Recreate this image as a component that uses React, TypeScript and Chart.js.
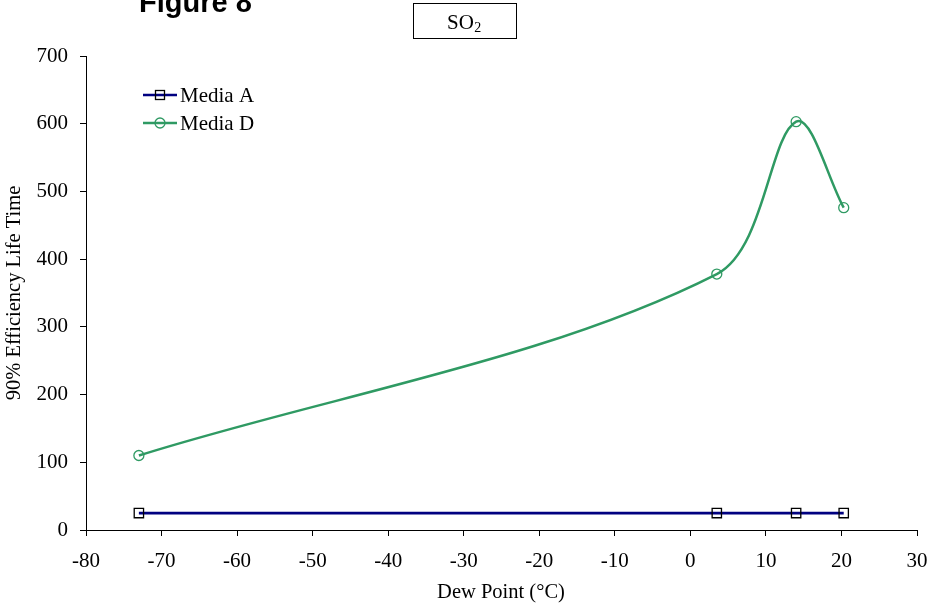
import React, { useEffect, useRef } from "react";
import { Chart, registerables } from "chart.js";

Chart.register(...registerables);

const dewPoints = [-73, 3.5, 14, 20.3];
const mediaA = [25, 25, 25, 25];
const mediaD = [110, 378, 603, 476];
const xTicks = [-80, 30, 10];
const yTicks = [0, 700, 100];

const SERIF = "'Liberation Serif', 'Times New Roman', serif";
const SANS = "'Liberation Sans', Arial, sans-serif";
const GREEN = "#2F9A63";
const NAVY = "#000080";

const decorPlugin = {
  id: "decor",
  afterDraw(chart: any) {
    const ctx = chart.ctx;
    const area = chart.chartArea;
    ctx.save();
    ctx.fillStyle = "#000";
    ctx.font = `bold 29px ${SANS}`;
    ctx.textAlign = "left";
    ctx.textBaseline = "alphabetic";
    ctx.fillText("Figure 8", 139, 11.5);

    ctx.strokeStyle = "#000";
    ctx.lineWidth = 1;
    ctx.strokeRect(413.5, 3.5, 103, 35);
    ctx.font = `21px ${SERIF}`;
    ctx.fillText("SO", 447, 29);
    const w = ctx.measureText("SO").width;
    ctx.font = `14px ${SERIF}`;
    ctx.fillText("2", 447 + w + 0.5, 32);

    ctx.font = `20.5px ${SERIF}`;
    ctx.textAlign = "center";
    ctx.textBaseline = "middle";
    ctx.fillText("Dew Point (\u00B0C)", 501, 593);
    ctx.save();
    ctx.translate(15, (area.top + area.bottom) / 2);
    ctx.rotate(-Math.PI / 2);
    ctx.fillText("90% Efficiency Life Time", 0, 0);
    ctx.restore();

    const items = [
      { label: chart.data.datasets[0].label, y: 95, color: NAVY, style: "rect" },
      { label: chart.data.datasets[1].label, y: 123, color: GREEN, style: "circle" },
    ];
    ctx.textAlign = "left";
    ctx.font = `21px ${SERIF}`;
    for (const it of items) {
      ctx.strokeStyle = it.color;
      ctx.lineWidth = 2.5;
      ctx.beginPath();
      ctx.moveTo(143, it.y);
      ctx.lineTo(177, it.y);
      ctx.stroke();
      if (it.style === "rect") {
        ctx.strokeStyle = "#000";
        ctx.lineWidth = 1.3;
        ctx.strokeRect(155.5, it.y - 4.5, 9, 9);
      } else {
        ctx.strokeStyle = GREEN;
        ctx.lineWidth = 1.3;
        ctx.beginPath();
        ctx.arc(160, it.y, 5, 0, Math.PI * 2);
        ctx.stroke();
      }
      ctx.fillStyle = "#000";
      ctx.fillText(it.label, 180, it.y + 1);
    }
    ctx.restore();
  },
};

export default function App() {
  const ref = useRef<HTMLCanvasElement>(null);
  useEffect(() => {
    const canvas = ref.current!;
    const chart = new Chart(canvas, {
      type: "scatter",
      data: {
        datasets: [
          {
            label: "Media A",
            data: dewPoints.map((x, i) => ({ x, y: mediaA[i] })),
            showLine: true,
            borderColor: NAVY,
            borderWidth: 2.8,
            pointStyle: "rect",
            pointRadius: 6.6,
            pointBorderColor: "#000",
            pointBackgroundColor: "rgba(0,0,0,0)",
            pointBorderWidth: 1.3,
            tension: 0,
          },
          {
            label: "Media D",
            data: dewPoints.map((x, i) => ({ x, y: mediaD[i] })),
            showLine: true,
            borderColor: GREEN,
            borderWidth: 2.5,
            pointStyle: "circle",
            pointRadius: 5,
            pointBorderColor: GREEN,
            pointBackgroundColor: "rgba(0,0,0,0)",
            pointBorderWidth: 1.3,
            tension: 0.33,
          },
        ],
      },
      options: {
        animation: false,
        responsive: false,
        devicePixelRatio: 1,
        layout: { padding: { top: 56, right: 13, left: 0, bottom: 0 } },
        plugins: { legend: { display: false }, tooltip: { enabled: false } },
        elements: { line: { capBezierPoints: false } },
        scales: {
          x: {
            type: "linear",
            min: xTicks[0],
            max: xTicks[1],
            afterFit: (s: any) => {
              s.height = 79;
              s.paddingRight = 0;
              s.paddingLeft = 0;
            },
            ticks: {
              stepSize: xTicks[2],
              color: "#000",
              font: { family: SERIF, size: 21 },
              padding: 13,
              maxRotation: 0,
            },
            grid: {
              drawOnChartArea: false,
              drawTicks: true,
              tickLength: 6,
              tickColor: "#000",
              color: "#000",
            },
            border: { display: true, color: "#000", width: 1 },
          },
          y: {
            type: "linear",
            min: yTicks[0],
            max: yTicks[1],
            afterFit: (s: any) => {
              s.width = 86;
              s.paddingTop = 0;
              s.paddingBottom = 0;
            },
            ticks: {
              stepSize: yTicks[2],
              color: "#000",
              font: { family: SERIF, size: 21 },
              padding: 12,
            },
            grid: {
              drawOnChartArea: false,
              drawTicks: true,
              tickLength: 6,
              tickColor: "#000",
              color: "#000",
            },
            border: { display: true, color: "#000", width: 1 },
          },
        },
      },
      plugins: [decorPlugin],
    });
    return () => chart.destroy();
  }, []);
  return (
    <div style={{ position: "absolute", left: 0, top: 0, width: 930, height: 609, background: "#fff" }}>
      <canvas ref={ref} width={930} height={609} style={{ display: "block" }} />
    </div>
  );
}
